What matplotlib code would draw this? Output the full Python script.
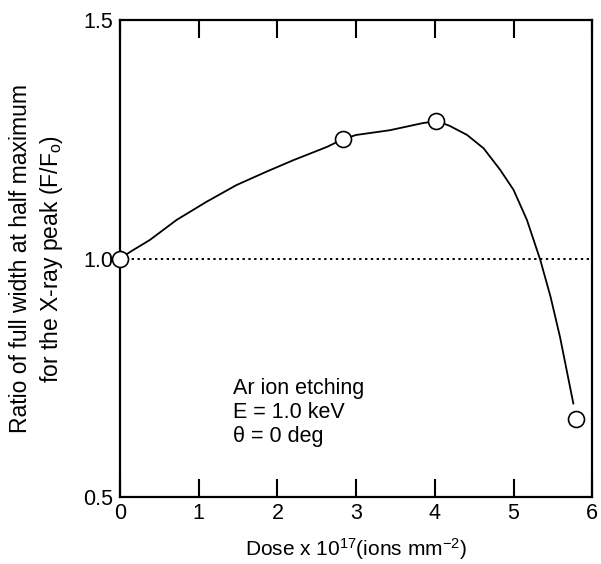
import numpy as np
import matplotlib
matplotlib.use("Agg")
import matplotlib.pyplot as plt

plt.rcParams['font.family'] = ['Liberation Sans', 'DejaVu Sans']
plt.rcParams['mathtext.fontset'] = 'custom'
plt.rcParams['mathtext.rm'] = 'Liberation Sans'
plt.rcParams['mathtext.it'] = 'Liberation Sans:italic'

# measured points
dose = [0.0, 2.83, 4.02, 5.80]
ratio = [1.0, 1.25, 1.288, 0.664]

# hand-drawn guide curve
curve_x = [0.0, 0.13, 0.38, 0.72, 1.10, 1.48, 1.86, 2.20, 2.63, 2.83, 3.0, 3.43, 3.85, 4.03,
           4.19, 4.41, 4.62, 4.83, 5.0, 5.17, 5.34, 5.47, 5.59, 5.76]
curve_y = [1.0, 1.014, 1.039, 1.081, 1.119, 1.154, 1.182, 1.206, 1.234, 1.25, 1.259, 1.269, 1.284, 1.288,
           1.278, 1.259, 1.231, 1.186, 1.144, 1.081, 0.997, 0.920, 0.836, 0.696]

xticks = [0, 1, 2, 3, 4, 5, 6]
yticks = [0.5, 1.0, 1.5]

fig = plt.figure(figsize=(6.01, 5.64), dpi=100)
ax = fig.add_axes([0.1997, 0.1188, 0.7857, 0.8457])

ax.plot(curve_x, curve_y, color='black', lw=1.3, zorder=2, solid_joinstyle='round')
ax.axhline(1.0, color='black', lw=1.4, ls=(0, (1.2, 1.8)), zorder=1)
ax.plot(dose, ratio, 'o', ms=11.5, mfc='white', mec='black', mew=1.2,
        clip_on=False, zorder=3)

ax.set_xlim(0, 6)
ax.set_ylim(0.5, 1.5)
ax.set_xticks(xticks)
ax.set_yticks(yticks)
ax.set_yticklabels(['0.5', '1.0', '1.5'])
ax.tick_params(axis='x', direction='in', top=True, length=13, width=1.5,
               labelsize=15.5, pad=4)
ax.tick_params(axis='y', length=0, labelsize=15.5, pad=5)
for s in ax.spines.values():
    s.set_linewidth(1.6)

ax.set_xlabel(r'Dose x 10$^{\mathregular{17}}$(ions mm$^{\mathregular{-2}}$)', fontsize=15, labelpad=9)
ax.set_ylabel('Ratio of full width at half maximum\n' + r'for the X-ray peak (F/F$_{\mathregular{o}}$)',
              fontsize=16.5, labelpad=13, linespacing=1.3)

ax.text(1.44, 0.75, 'Ar ion etching\nE = 1.0 keV\n\u03b8 = 0 deg', fontsize=15.5,
        va='top', ha='left', linespacing=1.2)

fig.savefig('out.png', dpi=100)
